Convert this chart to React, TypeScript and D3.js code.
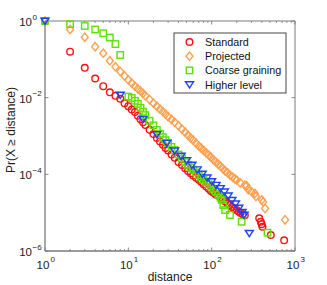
import React from "react";
import * as d3 from "d3";

const standardX = [1,2,3,4,5,6,7,8,9,10,11,12,13,14,15,16,18,20,22,24,26,28,30,33,36,40,44,48,52,56,60,65,70,75,80,86,92,98,105,112,120,128,136,145,155,165,175,186,198,210,222,235,250,372,389,398,407,513,741];
const standardY = [1,0.158,0.060,0.0316,0.020,0.0138,0.0112,0.0093,0.0072,0.0060,0.0049,0.0042,0.0034,0.00275,0.0023,0.00195,0.00145,0.00112,0.00089,0.00072,0.00059,0.00049,0.00042,0.00033,0.00027,0.00021,0.000174,0.000145,0.000123,0.000107,0.000093,0.000081,0.000072,0.000063,0.000055,0.000048,0.000042,0.000037,0.000033,0.000030,0.0000275,0.0000245,0.0000219,0.0000195,0.0000174,0.0000158,0.0000141,0.0000129,0.0000117,0.0000107,0.0000098,0.0000091,0.0000085,7.1e-6,5.8e-6,5.0e-6,4.3e-6,2.6e-6,1.9e-6];

const projectedX = [1,2,3,4,5,6,7,8,9,10,11,12,13,14,15,16,18,20,22,24,26,28,30,33,36,40,44,48,52,56,60,65,70,75,80,86,92,98,105,112,120,128,136,145,155,166,178,190,200,220,250,263,275,300,330,340,400,415,437,760];
const projectedY = [1,0.60,0.376,0.214,0.144,0.092,0.064,0.048,0.037,0.029,0.024,0.020,0.017,0.0148,0.0129,0.0112,0.0089,0.0072,0.0060,0.0050,0.0043,0.0037,0.0032,0.0027,0.0023,0.00186,0.00151,0.00126,0.00105,0.00089,0.00078,0.00065,0.00055,0.00048,0.00042,0.00036,0.00032,0.00028,0.00024,0.00021,0.000182,0.000162,0.000141,0.000123,0.00011,0.000095,0.000085,0.000076,0.000071,0.00006,0.000052,0.00005,0.00004,0.0000355,0.0000316,0.0000263,0.0000214,0.000019,0.0000129,0.0000065];

const coarseX = [1,2,3,4,5,6,7,8,10,11,12,13,14,15,16,18,20,22,24,26,28,30,33,36,40,44,48,52,56,60,65,70,75,80,86,92,98,105,112,120,128,132,138,145,166,229,468];
const coarseY = [1,0.83,0.74,0.60,0.48,0.37,0.25,0.13,0.0107,0.0098,0.0083,0.0069,0.0054,0.0043,0.0035,0.0025,0.0019,0.00145,0.00115,0.00093,0.00078,0.00066,0.00052,0.00043,0.00033,0.00026,0.00021,0.000178,0.000151,0.000132,0.000112,0.000095,0.000083,0.000072,0.000063,0.000055,0.000048,0.000042,0.0000355,0.0000295,0.0000245,0.0000214,0.0000158,0.0000117,8.7e-6,5.8e-6,3.0e-6];

const higherX = [1,8,15,22,29,36,43,50,58,67,77,88,100,113,127,142,158,175,193,212,232,245,283];
const higherY = [1,0.0117,0.00275,0.0011,0.00065,0.00041,0.0003,0.00023,0.000174,0.000132,0.000102,0.000081,0.000065,0.000052,0.000043,0.000035,0.0000275,0.000021,0.000017,0.0000132,0.0000102,0.0000087,0.0000029];

const seriesNames = ["Standard", "Projected", "Coarse graining", "Higher level"];
const xTickValues = [1, 10, 100, 1000];
const xTickExps = ["0", "1", "2", "3"];
const yTickValues = [1, 1e-2, 1e-4, 1e-6];
const yTickExps = ["0", "\u22122", "\u22124", "\u22126"];

const FONT = "'Liberation Sans', Arial, Helvetica, sans-serif";
const RED = "#ff1010";
const ORANGE = "#ffa050";
const GREEN = "#5fe000";
const BLUE = "#2040ff";

function Marker({ kind, x, y }: { kind: number; x: number; y: number }) {
  const sw = 1.4;
  if (kind === 0) return <circle cx={x} cy={y} r={3.3} fill="none" stroke={RED} strokeWidth={sw} />;
  if (kind === 1)
    return <path d={`M${x},${y - 4.2}L${x + 3.5},${y}L${x},${y + 4.2}L${x - 3.5},${y}Z`} fill="none" stroke={ORANGE} strokeWidth={sw} />;
  if (kind === 2) return <rect x={x - 3.2} y={y - 3.2} width={6.4} height={6.4} fill="none" stroke={GREEN} strokeWidth={sw} />;
  return <path d={`M${x - 4},${y - 2.8}L${x + 4},${y - 2.8}L${x},${y + 3.4}Z`} fill="none" stroke={BLUE} strokeWidth={sw} />;
}

export default function App() {
  const left = 45, right = 295, top = 21, bottom = 251;
  const x = d3.scaleLog().domain([1, 1000]).range([left, right]);
  const y = d3.scaleLog().domain([1e-6, 1]).range([bottom, top]);

  const series = [
    { xs: standardX, ys: standardY },
    { xs: projectedX, ys: projectedY },
    { xs: coarseX, ys: coarseY },
    { xs: higherX, ys: higherY },
  ];

  const minor: number[] = [];
  for (let d = 1; d < 1000; d *= 10) for (let k = 2; k <= 9; k++) minor.push(d * k);

  const axisColor = "#7a7a7a";
  const textColor = "#222";

  return (
    <svg width={327} height={285} style={{ position: "absolute", left: 0, top: 0, background: "#fff" }}>
      <rect x={0} y={0} width={327} height={285} fill="#fff" />
      {/* box */}
      <line x1={left} x2={right} y1={top} y2={top} stroke={axisColor} strokeWidth={1} />
      <line x1={right} x2={right} y1={top} y2={bottom} stroke={axisColor} strokeWidth={1} />
      {/* minor x ticks */}
      {minor.map((v, i) => (
        <g key={"mn" + i}>
          <line x1={x(v)} x2={x(v)} y1={bottom} y2={bottom - 2} stroke={axisColor} strokeWidth={0.8} />
          <line x1={x(v)} x2={x(v)} y1={top} y2={top + 2} stroke={axisColor} strokeWidth={0.8} />
        </g>
      ))}
      {xTickValues.map((v, i) => (
        <g key={"xt" + i}>
          <line x1={x(v)} x2={x(v)} y1={bottom} y2={bottom - 3.5} stroke={axisColor} strokeWidth={0.9} />
          <line x1={x(v)} x2={x(v)} y1={top} y2={top + 3.5} stroke={axisColor} strokeWidth={0.9} />
          <text x={x(v) - 2} y={269} fontFamily={FONT} fontSize={11.5} fill={textColor} textAnchor="middle">10</text>
          <text x={x(v) + 5.5} y={262} fontFamily={FONT} fontSize={8} fill={textColor} textAnchor="start">{xTickExps[i]}</text>
        </g>
      ))}
      {yTickValues.map((v, i) => (
        <g key={"yt" + i}>
          <line x1={left} x2={left + 3.5} y1={y(v)} y2={y(v)} stroke={axisColor} strokeWidth={0.9} />
          <line x1={right} x2={right - 3.5} y1={y(v)} y2={y(v)} stroke={axisColor} strokeWidth={0.9} />
          <text x={32} y={y(v) + 5} fontFamily={FONT} fontSize={11.5} fill={textColor} textAnchor="end">10</text>
          <text x={32.5} y={y(v) - 1.5} fontFamily={FONT} fontSize={8} fill={textColor} textAnchor="start">{yTickExps[i]}</text>
        </g>
      ))}
      <line x1={left} x2={left} y1={top} y2={bottom} stroke={axisColor} strokeWidth={1.3} />
      <line x1={left} x2={right} y1={bottom} y2={bottom} stroke={axisColor} strokeWidth={1.3} />

      {/* data */}
      {series.map((s, k) => (
        <g key={"s" + k}>
          {s.xs.map((xv, i) => (
            <Marker key={i} kind={k} x={x(xv)} y={y(s.ys[i])} />
          ))}
        </g>
      ))}

      {/* legend */}
      <rect x={174} y={33} width={112} height={60} fill="#fff" stroke="#333" strokeWidth={0.9} />
      {seriesNames.map((n, i) => (
        <g key={"lg" + i}>
          <Marker kind={i} x={189.5} y={42 + i * 14.2} />
          <text x={205} y={42 + i * 14.2 + 4} fontFamily={FONT} fontSize={10.8} fill="#111">{n}</text>
        </g>
      ))}

      <text x={(left + right) / 2} y={281} fontFamily={FONT} fontSize={12} fill={textColor} textAnchor="middle">distance</text>
      <text transform={`translate(15, ${130}) rotate(-90)`} fontFamily={FONT} fontSize={12} fill={textColor} textAnchor="middle">{"Pr(X \u2265 distance)"}</text>
    </svg>
  );
}
